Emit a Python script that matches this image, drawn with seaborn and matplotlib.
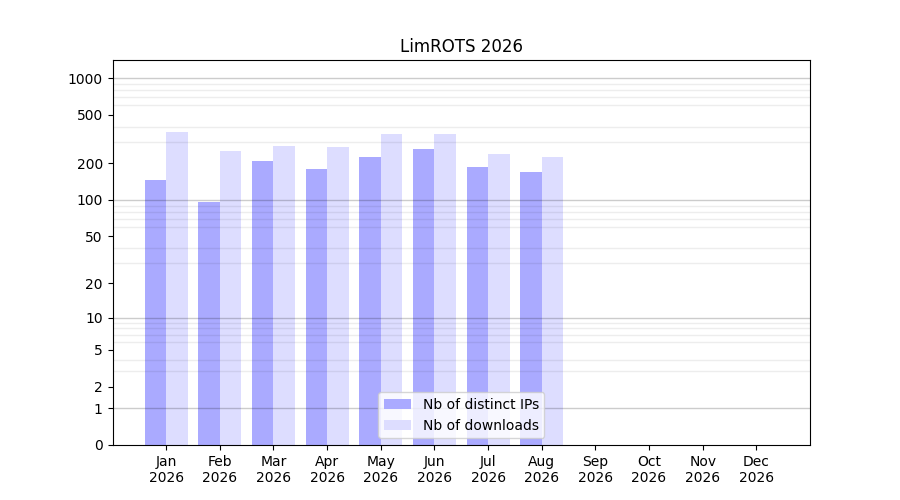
import numpy as np
import pandas as pd
import matplotlib
matplotlib.use("Agg")
import matplotlib.pyplot as plt
import seaborn as sns
from matplotlib.ticker import FixedLocator, NullFormatter

months = ["Jan", "Feb", "Mar", "Apr", "May", "Jun", "Jul", "Aug", "Sep", "Oct", "Nov", "Dec"]
year = "2026"
distinct_ips = [147, 97, 210, 181, 227, 264, 188, 171]
downloads = [364, 254, 279, 274, 350, 350, 240, 227]
series_names = ["Nb of distinct IPs", "Nb of downloads"]
series_colors = ["#aaaaff", "#ddddff"]
ytick_values = [0, 1, 2, 5, 10, 20, 50, 100, 200, 500, 1000]

month_labels = [f"{m}\n{year}" for m in months]
n = len(distinct_ips)
df = pd.DataFrame({
    "month": month_labels[:n] * 2,
    "value": distinct_ips + downloads,
    "series": [series_names[0]] * n + [series_names[1]] * n,
})

fig, ax = plt.subplots(figsize=(9, 5), dpi=100)
sns.barplot(data=df, x="month", y="value", hue="series", order=month_labels,
            hue_order=series_names, palette=series_colors, saturation=1,
            width=0.8, ax=ax, errorbar=None)

fwd = lambda v: np.log10(1 + np.clip(v, 0, None))
inv = lambda u: 10 ** u - 1
ax.set_yscale("function", functions=(fwd, inv))
ax.set_ylim(0, 1410)
ax.set_xlim(-1, 12)

ax.yaxis.set_major_locator(FixedLocator(ytick_values))
ax.set_yticklabels([str(v) for v in ytick_values])
minor = []
for dec in [1, 10, 100]:
    minor += [dec * k for k in range(1, 10)]
minor.append(1000)
ax.yaxis.set_minor_locator(FixedLocator(minor))
ax.yaxis.set_minor_formatter(NullFormatter())
ax.tick_params(axis="y", which="minor", length=0)
ax.set_axisbelow(False)
ax.grid(False)
ax.grid(which="minor", axis="y", color="black", alpha=0.07, linewidth=1)
for dec in [1, 10, 100, 1000]:
    ax.axhline(dec, color="black", alpha=0.2, linewidth=1)

ax.set_xlabel("")
ax.set_ylabel("")
ax.set_title(f"LimROTS {year}")
ax.legend(loc="lower center")
fig.savefig("out.png", dpi=100)
